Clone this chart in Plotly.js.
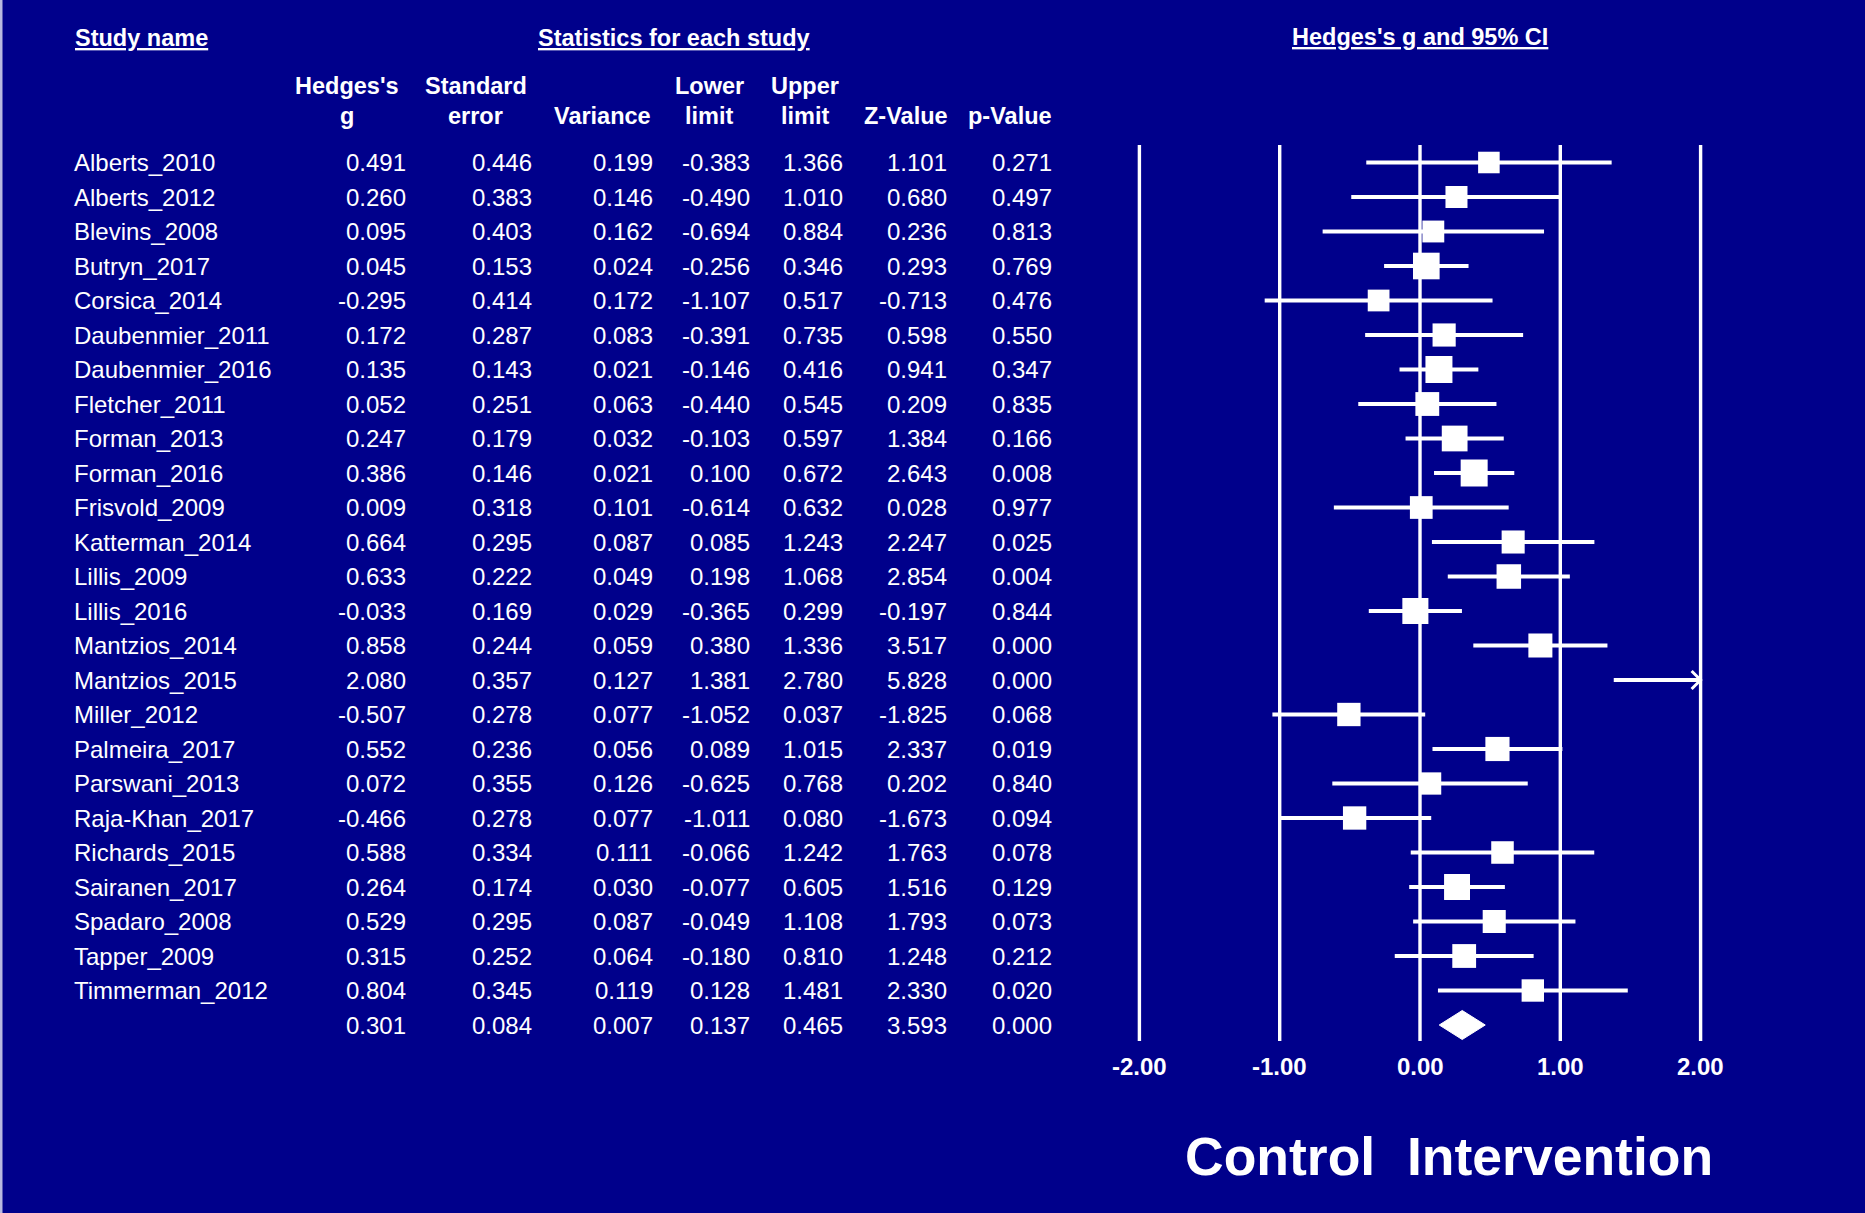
<!DOCTYPE html>
<html>
<head>
<meta charset="utf-8">
<script src="https://cdn.plot.ly/plotly-3.0.1.min.js"></script>
<style>html,body{margin:0;padding:0;background:#00008B;}#chart{width:1865px;height:1213px;}</style>
</head>
<body>
<div id="chart"></div>
<script>
// ---------- data ----------
const studies = ["Alberts_2010","Alberts_2012","Blevins_2008","Butryn_2017","Corsica_2014","Daubenmier_2011","Daubenmier_2016","Fletcher_2011","Forman_2013","Forman_2016","Frisvold_2009","Katterman_2014","Lillis_2009","Lillis_2016","Mantzios_2014","Mantzios_2015","Miller_2012","Palmeira_2017","Parswani_2013","Raja-Khan_2017","Richards_2015","Sairanen_2017","Spadaro_2008","Tapper_2009","Timmerman_2012"];
const hedgesG = [0.491,0.260,0.095,0.045,-0.295,0.172,0.135,0.052,0.247,0.386,0.009,0.664,0.633,-0.033,0.858,2.080,-0.507,0.552,0.072,-0.466,0.588,0.264,0.529,0.315,0.804];
const stdErr = [0.446,0.383,0.403,0.153,0.414,0.287,0.143,0.251,0.179,0.146,0.318,0.295,0.222,0.169,0.244,0.357,0.278,0.236,0.355,0.278,0.334,0.174,0.295,0.252,0.345];
const variance = [0.199,0.146,0.162,0.024,0.172,0.083,0.021,0.063,0.032,0.021,0.101,0.087,0.049,0.029,0.059,0.127,0.077,0.056,0.126,0.077,0.111,0.030,0.087,0.064,0.119];
const lowerLimit = [-0.383,-0.490,-0.694,-0.256,-1.107,-0.391,-0.146,-0.440,-0.103,0.100,-0.614,0.085,0.198,-0.365,0.380,1.381,-1.052,0.089,-0.625,-1.011,-0.066,-0.077,-0.049,-0.180,0.128];
const upperLimit = [1.366,1.010,0.884,0.346,0.517,0.735,0.416,0.545,0.597,0.672,0.632,1.243,1.068,0.299,1.336,2.780,0.037,1.015,0.768,0.080,1.242,0.605,1.108,0.810,1.481];
const zValue = [1.101,0.680,0.236,0.293,-0.713,0.598,0.941,0.209,1.384,2.643,0.028,2.247,2.854,-0.197,3.517,5.828,-1.825,2.337,0.202,-1.673,1.763,1.516,1.793,1.248,2.330];
const pValue = [0.271,0.497,0.813,0.769,0.476,0.550,0.347,0.835,0.166,0.008,0.977,0.025,0.004,0.844,0.000,0.000,0.068,0.019,0.840,0.094,0.078,0.129,0.073,0.212,0.020];
// summary (overall) row: g, SE, variance, lower, upper, Z, p
const summaryRow = [0.301,0.084,0.007,0.137,0.465,3.593,0.000];
const axisTicks = [-2,-1,0,1,2];
const headerLine1 = ["Hedges's","Standard","","Lower","Upper","",""];
const headerLine2 = ["g","error","Variance","limit","limit","Z-Value","p-Value"];
const groupTitles = ["Study name","Statistics for each study","Hedges's g and 95% CI"];
const sideLabels = ["Control","Intervention"];

// ---------- layout geometry (pixels) ----------
const W = 1865, H = 1213;
const X0 = 1420, XS = 140.3;     // pixel of g=0, pixels per unit
const Y0 = 162.5, YS = 34.5;     // pixel of first row, pixels per row
const BG = '#00008B', FG = '#FFFFFF';
const FONT = 'Liberation Sans, Arial, Helvetica, sans-serif';
const colRight = [407.5, 534, 655, 752, 845, 949, 1054];
const headCenter = [347, 475.5, 602.5, 709, 805, 905.5, 1010.5];
const px2paperX = p => p / W;
const px2paperY = p => 1 - p / H;
const axMin = Math.min(...axisTicks), axMax = Math.max(...axisTicks);
const nRows = studies.length;

// ---------- traces ----------
const ciX = [], ciY = [];
for (let i = 0; i < nRows; i++) {
  ciX.push(Math.max(lowerLimit[i], axMin), Math.min(upperLimit[i], axMax), null);
  ciY.push(i, i, null);
}
const ciTrace = {type:'scatter', mode:'lines', x:ciX, y:ciY, line:{color:FG, width:4}, hoverinfo:'skip', showlegend:false};

// arrows for CIs running past the axis
const arX = [], arY = [];
const adx = 9 / XS, ady = 9 / YS;
for (let i = 0; i < nRows; i++) {
  if (upperLimit[i] > axMax) { arX.push(axMax - adx, axMax, axMax - adx, null); arY.push(i - ady, i, i + ady, null); }
  if (lowerLimit[i] < axMin) { arX.push(axMin + adx, axMin, axMin + adx, null); arY.push(i - ady, i, i + ady, null); }
}
const arrowTrace = {type:'scatter', mode:'lines', x:arX, y:arY, line:{color:FG, width:3}, hoverinfo:'skip', showlegend:false};

// weight-scaled squares
const tau2 = 0.03;
const wts = variance.map(v => 1 / (v + tau2));
const wMax = Math.max(...wts);
const sqX = [], sqY = [], sqS = [];
for (let i = 0; i < nRows; i++) {
  if (hedgesG[i] >= axMin && hedgesG[i] <= axMax) {
    sqX.push(hedgesG[i]); sqY.push(i); sqS.push(20 + 7 * wts[i] / wMax);
  }
}
const sqTrace = {type:'scatter', mode:'markers', x:sqX, y:sqY, marker:{symbol:'square', color:FG, opacity:1, size:sqS, line:{width:0}}, hoverinfo:'skip', showlegend:false};

// summary diamond
const sRow = nRows, dh = 14.5 / YS;
const diaTrace = {type:'scatter', mode:'lines', fill:'toself', fillcolor:FG,
  x:[summaryRow[3], summaryRow[0], summaryRow[4], summaryRow[0], summaryRow[3]],
  y:[sRow, sRow - dh, sRow, sRow + dh, sRow], line:{color:FG, width:1}, hoverinfo:'skip', showlegend:false};

// ---------- shapes ----------
const shapes = axisTicks.map(t => ({type:'line', xref:'x', yref:'y', x0:t, x1:t,
  y0:(145 - Y0) / YS, y1:(1041 - Y0) / YS, line:{color:FG, width:3.4}, layer:'below'}));
shapes.push({type:'rect', xref:'paper', yref:'paper', x0:0, x1:2.5 / W, y0:0, y1:1, fillcolor:'#B8B8E0', line:{width:0}, layer:'below'});

// ---------- annotations ----------
const ann = [];
const dataFont = {family:FONT, size:24, color:FG};
const headFont = {family:FONT, size:23.5, color:FG};
const rows = [];
for (let i = 0; i < nRows; i++) rows.push([hedgesG[i], stdErr[i], variance[i], lowerLimit[i], upperLimit[i], zValue[i], pValue[i]]);
rows.push(summaryRow);
rows.forEach((vals, i) => {
  if (i < nRows) ann.push({xref:'paper', yref:'y', x:px2paperX(71.5), y:i, text:studies[i], xanchor:'left', yanchor:'middle', showarrow:false, font:dataFont});
  vals.forEach((v, c) => ann.push({xref:'paper', yref:'y', x:px2paperX(colRight[c]), y:i, text:v.toFixed(3), xanchor:'right', yanchor:'middle', showarrow:false, font:dataFont}));
});
headerLine1.forEach((t, c) => { if (t) ann.push({xref:'paper', yref:'paper', x:px2paperX(headCenter[c]), y:px2paperY(85.5), text:'<b>' + t + '</b>', xanchor:'center', yanchor:'middle', showarrow:false, font:headFont}); });
headerLine2.forEach((t, c) => { if (t) ann.push({xref:'paper', yref:'paper', x:px2paperX(headCenter[c]), y:px2paperY(116), text:'<b>' + t + '</b>', xanchor:'center', yanchor:'middle', showarrow:false, font:headFont}); });
const ulFont = Object.assign({}, headFont, {lineposition:'under'});
ann.push({xref:'paper', yref:'paper', x:px2paperX(72.5), y:px2paperY(37.5), text:'<b>' + groupTitles[0] + '</b>', xanchor:'left', yanchor:'middle', showarrow:false, font:ulFont});
ann.push({xref:'paper', yref:'paper', x:px2paperX(673.5), y:px2paperY(37.5), text:'<b>' + groupTitles[1] + '</b>', xanchor:'center', yanchor:'middle', showarrow:false, font:ulFont});
ann.push({xref:'x', yref:'paper', x:0, y:px2paperY(37), text:'<b>' + groupTitles[2] + '</b>', xanchor:'center', yanchor:'middle', showarrow:false, font:ulFont});
axisTicks.forEach(t => ann.push({xref:'x', yref:'paper', x:t, y:px2paperY(1066), text:'<b>' + t.toFixed(2) + '</b>', xanchor:'center', yanchor:'middle', showarrow:false, font:{family:FONT, size:24, color:FG}}));
ann.push({xref:'x', yref:'paper', x:-1, y:px2paperY(1156.5), text:'<b>' + sideLabels[0] + '</b>', xanchor:'center', yanchor:'middle', showarrow:false, font:{family:FONT, size:53.5, color:FG}});
ann.push({xref:'x', yref:'paper', x:1, y:px2paperY(1156.5), text:'<b>' + sideLabels[1] + '</b>', xanchor:'center', yanchor:'middle', showarrow:false, font:{family:FONT, size:53.5, color:FG}});

const layout = {
  width:W, height:H, margin:{l:0, r:0, t:0, b:0, pad:0},
  paper_bgcolor:BG, plot_bgcolor:BG, showlegend:false,
  xaxis:{range:[(0 - X0) / XS, (W - X0) / XS], visible:false, fixedrange:true},
  yaxis:{range:[(H - Y0) / YS, (0 - Y0) / YS], visible:false, fixedrange:true},
  shapes:shapes, annotations:ann, font:{family:FONT, color:FG}
};
Plotly.newPlot('chart', [ciTrace, arrowTrace, diaTrace, sqTrace], layout, {staticPlot:true, displayModeBar:false});
</script>
</body>
</html>
